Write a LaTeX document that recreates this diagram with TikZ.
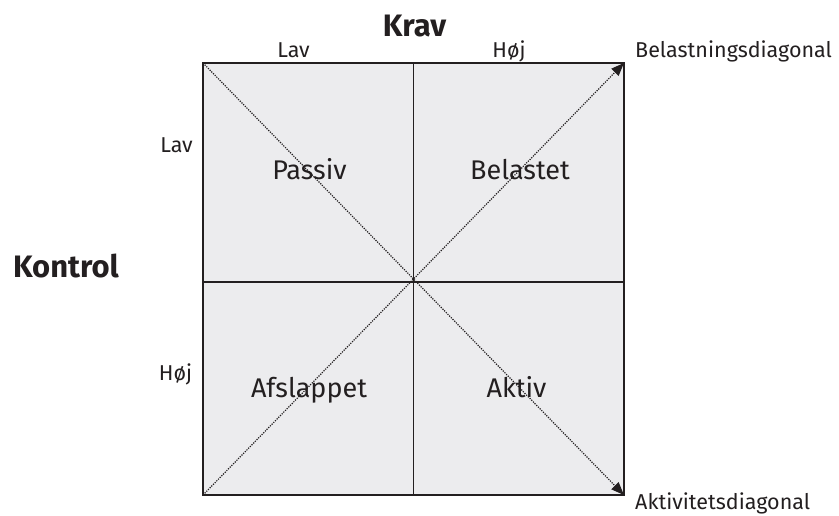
\documentclass[tikz,border=0pt]{standalone}
\usepackage{fontspec}
\setmainfont{Fira Sans}
\usetikzlibrary{arrows.meta}
\definecolor{cellfill}{HTML}{ECECEE}
\definecolor{ink}{HTML}{231F20}
\tikzset{
  grid line/.style={draw=ink, line width=1.1pt},
  diag line/.style={draw=ink, line width=1.2pt, dash pattern=on 1.2pt off 1.2pt},
  diag arrow/.style={diag line, -{Triangle[length=13pt,width=10pt]}},
  small label/.style={font=\fontsize{21.5}{25}\selectfont, text=ink, inner sep=0pt},
  cell label/.style={font=\fontsize{27}{31}\selectfont, text=ink, inner sep=0pt},
  axis title/.style={font=\fontsize{31}{36}\selectfont\bfseries, text=ink, inner sep=0pt},
}
\begin{document}
\begin{tikzpicture}[x=1pt, y=-1pt]
  \useasboundingbox (0,0) rectangle (839,516);
  % corners and midpoints of the square
  \coordinate (tl) at (203,63);
  \coordinate (tr) at (624,63);
  \coordinate (bl) at (203,495);
  \coordinate (br) at (624,495);
  \coordinate (tm) at (413.5,63);
  \coordinate (bm) at (413.5,495);
  \coordinate (lm) at (203,282);
  \coordinate (rm) at (624,282);
  % background
  \fill[cellfill] (tl) rectangle (br);
  % diagonals
  \draw[diag arrow] (tl) -- (br);
  \draw[diag arrow] (bl) -- (tr);
  % frame and dividers
  \draw[grid line] (tl) rectangle (br);
  \draw[grid line] (tm) -- (bm);
  \draw[grid line] (lm) -- (rm);
  % quadrant labels
  \node[cell label, anchor=base] (passiv) at (309.5,180) {Passiv};
  \node[cell label, anchor=base] (belastet) at (520,180) {Belastet};
  \node[cell label, anchor=base] (afslappet) at (309,397) {Afslappet};
  \node[cell label, anchor=base] (aktiv) at (516.5,397) {Aktiv};
  % axis titles
  \node[axis title, anchor=base] (krav) at (414.5,37) {Krav};
  \node[axis title, anchor=base] (kontrol) at (66,277) {Kontrol};
  % scale labels
  \node[small label, anchor=base] (lavtop) at (293.5,58) {Lav};
  \node[small label, anchor=base] (hojtop) at (509,58) {Høj};
  \node[small label, anchor=base] (lavleft) at (176.5,153) {Lav};
  \node[small label, anchor=base] (hojleft) at (175.5,380) {Høj};
  % diagonal names
  \node[small label, anchor=base west] (beldiag) at (635,58) {Belastningsdiagonal};
  \node[small label, anchor=base west] (aktdiag) at (635,509) {Aktivitetsdiagonal};
\end{tikzpicture}
\end{document}
